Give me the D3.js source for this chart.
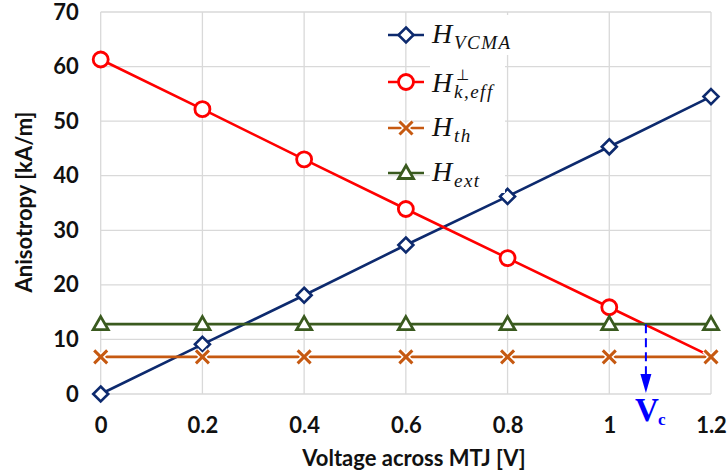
<!DOCTYPE html>
<html><head><meta charset="utf-8">
<script src="https://cdn.jsdelivr.net/npm/d3@7"></script>
<style>body{margin:0;background:#fff}</style>
</head><body><svg id="c" width="728" height="476"></svg>
<script>
const voltage = [0, 0.2, 0.4, 0.6, 0.8, 1.0, 1.2];
const hVCMA = [0, 9.1, 18.1, 27.3, 36.2, 45.3, 54.5];
const hKeff = [61.3, 52.2, 43.0, 33.9, 24.9, 15.9, 6.9];
const hTh = [6.8, 6.8, 6.8, 6.8, 6.8, 6.8, 6.8];
const hExt = [12.8, 12.8, 12.8, 12.8, 12.8, 12.8, 12.8];
const xTicks = [0, 0.2, 0.4, 0.6, 0.8, 1, 1.2];
const xTickLabels = ["0", "0.2", "0.4", "0.6", "0.8", "1", "1.2"];
const yTicks = [0, 10, 20, 30, 40, 50, 60, 70];
const vc = 1.072;
const xTitle = "Voltage across MTJ [V]";
const yTitle = "Anisotropy [kA/m]";

const svg = d3.select("#c");
const x = d3.scaleLinear().domain([0, 1.2]).range([100.7, 711]);
const y = d3.scaleLinear().domain([0, 70]).range([394, 12]);
const grid = "#d9d9d9";
const tickFont = "Lato, 'Open Sans', sans-serif";

// gridlines
svg.append("g").selectAll("line").data(yTicks).join("line")
  .attr("x1", x(0)).attr("x2", x(1.2)).attr("y1", d => y(d)).attr("y2", d => y(d))
  .attr("stroke", grid).attr("stroke-width", 1.3);
svg.append("g").selectAll("line").data(xTicks).join("line")
  .attr("y1", y(0)).attr("y2", y(70)).attr("x1", d => x(d)).attr("x2", d => x(d))
  .attr("stroke", grid).attr("stroke-width", 1.3);

// axes labels via d3 axes
const xAxis = svg.append("g").attr("transform", `translate(0,${y(0)})`)
  .call(d3.axisBottom(x).tickValues(xTicks).tickSize(0).tickPadding(23)
    .tickFormat((d, i) => xTickLabels[i]));
xAxis.select(".domain").remove();
xAxis.selectAll("text").attr("font-family", tickFont).attr("font-weight", "bold")
  .attr("font-size", 22).attr("fill", "#111");

const yAxis = svg.append("g").attr("transform", `translate(${x(0)},0)`)
  .call(d3.axisLeft(y).tickValues(yTicks).tickSize(0).tickPadding(22));
yAxis.select(".domain").remove();
yAxis.selectAll("text").attr("font-family", tickFont).attr("font-weight", "bold")
  .attr("font-size", 22).attr("fill", "#111");

svg.append("text").attr("x", 414).attr("y", 466).attr("text-anchor", "middle")
  .attr("font-family", tickFont).attr("font-weight", "bold").attr("font-size", 22)
  .attr("fill", "#111").text(xTitle);
svg.append("text").attr("transform", "translate(32,202) rotate(-90)").attr("text-anchor", "middle")
  .attr("font-family", tickFont).attr("font-weight", "bold").attr("font-size", 22)
  .attr("fill", "#111").text(yTitle);

const series = [
  {vals: hVCMA, color: "#0d2a6e", marker: "diamond"},
  {vals: hKeff, color: "#ff0000", marker: "circle", skipLast: true},
  {vals: hTh, color: "#c65911", marker: "x"},
  {vals: hExt, color: "#3a5a1f", marker: "triangle"}
];

function drawMarker(g, type, cx, cy, color) {
  if (type === "diamond") {
    g.append("path").attr("d", `M${cx},${cy-7.5}L${cx+7.5},${cy}L${cx},${cy+7.5}L${cx-7.5},${cy}Z`)
      .attr("fill", "#fff").attr("stroke", color).attr("stroke-width", 2.6);
  } else if (type === "circle") {
    g.append("circle").attr("cx", cx).attr("cy", cy).attr("r", 7.5)
      .attr("fill", "#fff").attr("stroke", color).attr("stroke-width", 2.8);
  } else if (type === "x") {
    const s = 6.5;
    g.append("path").attr("d", `M${cx-s},${cy-s}L${cx+s},${cy+s}M${cx-s},${cy+s}L${cx+s},${cy-s}`)
      .attr("stroke", "#fff").attr("stroke-width", 6);
    g.append("path").attr("d", `M${cx-s},${cy-s}L${cx+s},${cy+s}M${cx-s},${cy+s}L${cx+s},${cy-s}`)
      .attr("stroke", color).attr("stroke-width", 3);
  } else if (type === "triangle") {
    g.append("path").attr("d", `M${cx},${cy-7.5}L${cx+7.5},${cy+5.5}L${cx-7.5},${cy+5.5}Z`)
      .attr("fill", "#fff").attr("stroke", color).attr("stroke-width", 2.8);
  }
}

const line = d3.line().x((d, i) => x(voltage[i])).y(d => y(d));
series.forEach(s => {
  const g = svg.append("g");
  g.append("path").datum(s.vals).attr("d", line).attr("fill", "none")
    .attr("stroke", s.color).attr("stroke-width", 2.6);
  s.vals.forEach((v, i) => {
    if (s.skipLast && i === s.vals.length - 1) return;
    drawMarker(g, s.marker, x(voltage[i]), y(v), s.color);
  });
});

// Vc annotation
const vcX = x(vc);
svg.append("line").attr("x1", vcX).attr("x2", vcX).attr("y1", y(hExt[0])).attr("y2", y(0) - 18)
  .attr("stroke", "#0000ff").attr("stroke-width", 2).attr("stroke-dasharray", "9,5");
svg.append("path").attr("d", `M${vcX-5.5},${y(0)-20}L${vcX+5.5},${y(0)-20}L${vcX},${y(0)-1}Z`)
  .attr("fill", "#0000ff");
svg.append("text").attr("x", vcX - 11).attr("y", 421).attr("font-family", "'Liberation Serif', serif")
  .attr("font-weight", "bold").attr("font-size", 33).attr("fill", "#0000ff").text("V");
svg.append("text").attr("x", vcX + 12).attr("y", 425).attr("font-family", "'Liberation Serif', serif")
  .attr("font-weight", "bold").attr("font-size", 17).attr("fill", "#0000ff").text("c");

// legend
const legFont = "'Liberation Serif', 'DejaVu Serif', serif";
const legRows = [
  {y: 35, sub: "VCMA", sup: null},
  {y: 82, sub: "k,eff", sup: "⊥"},
  {y: 128, sub: "th", sup: null},
  {y: 173, sub: "ext", sup: null}
];
legRows.forEach((r, i) => {
  const s = series[i];
  const g = svg.append("g");
  const tx = 432, base = r.y + (i === 1 ? 10 : 8);
  g.append("rect").attr("x", tx - 2).attr("y", r.y - 20).attr("width", i === 0 ? 80 : 75)
    .attr("height", 40).attr("fill", "#fff");
  g.append("line").attr("x1", 388).attr("x2", 424).attr("y1", r.y).attr("y2", r.y)
    .attr("stroke", s.color).attr("stroke-width", 2.6);
  drawMarker(g, s.marker, 406, r.y, s.color);
  g.append("text").attr("x", tx).attr("y", base).attr("font-family", legFont)
    .attr("font-style", "italic").attr("font-size", 28).attr("fill", "#111").text("H");
  g.append("text").attr("x", tx + 22).attr("y", base + 6).attr("font-family", legFont)
    .attr("font-style", "italic").attr("font-size", 19).attr("letter-spacing", 1.5)
    .attr("fill", "#111").text(r.sub);
  if (r.sup) {
    g.append("text").attr("x", tx + 24).attr("y", r.y - 2).attr("font-family", "'DejaVu Sans', sans-serif")
      .attr("font-size", 15).attr("fill", "#111").text(r.sup);
  }
});
</script></body></html>
